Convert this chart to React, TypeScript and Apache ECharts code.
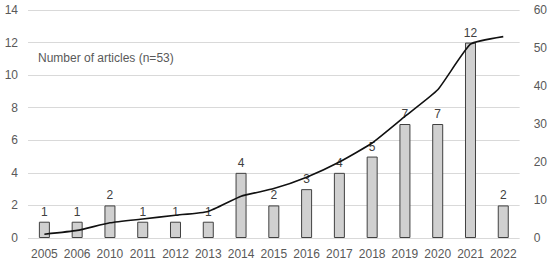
import React, { useEffect, useRef } from "react";
import * as echarts from "echarts";

const years = ["2005", "2006", "2010", "2011", "2012", "2013", "2014", "2015", "2016", "2017", "2018", "2019", "2020", "2021", "2022"];
const articles = [1, 1, 2, 1, 1, 1, 4, 2, 3, 4, 5, 7, 7, 12, 2];
const cumulative = [1, 2, 4, 5, 6, 7, 11, 13, 16, 20, 25, 32, 39, 51, 53];
const legendText = "Number of articles (n=53)";

export default function App() {
  const ref = useRef<HTMLDivElement>(null);
  useEffect(() => {
    const chart = echarts.init(ref.current!, null, { renderer: "svg" });
    const font = "Liberation Sans, Arial, sans-serif";
    chart.setOption({
      animation: false,
      textStyle: { fontFamily: font },
      grid: { left: 28, right: 28, top: 10, bottom: 26 },
      graphic: [
        {
          type: "text",
          left: 38,
          top: 52,
          style: { text: legendText, fontSize: 12, fill: "#595959", fontFamily: font },
        },
      ],
      xAxis: {
        type: "category",
        data: years,
        axisLine: { show: false },
        axisTick: { show: false },
        axisLabel: { color: "#595959", fontSize: 12, margin: 10, interval: 0, fontFamily: font },
      },
      yAxis: [
        {
          type: "value",
          min: 0,
          max: 14,
          interval: 2,
          axisLine: { show: false },
          axisTick: { show: false },
          axisLabel: { color: "#595959", fontSize: 12, margin: 10, fontFamily: font },
          splitLine: { lineStyle: { color: "#d9d9d9", width: 1 } },
        },
        {
          type: "value",
          min: 0,
          max: 60,
          interval: 10,
          axisLine: { show: false },
          axisTick: { show: false },
          axisLabel: { color: "#595959", fontSize: 12, margin: 14, fontFamily: font },
          splitLine: { show: false },
        },
      ],
      series: [
        {
          type: "bar",
          data: articles,
          barWidth: 11,
          itemStyle: { color: "#d0d0d0", borderColor: "#404040", borderWidth: 1 },
          label: { show: true, position: "top", distance: 4, color: "#404040", fontSize: 12, fontFamily: font },
        },
        {
          type: "line",
          yAxisIndex: 1,
          data: cumulative,
          smooth: 0.15,
          symbol: "none",
          lineStyle: { color: "#111111", width: 1.6 },
          z: 3,
        },
      ],
    });
    return () => chart.dispose();
  }, []);
  return <div ref={ref} style={{ width: 550, height: 264, position: "absolute", left: 0, top: 0, background: "#fff" }} />;
}
